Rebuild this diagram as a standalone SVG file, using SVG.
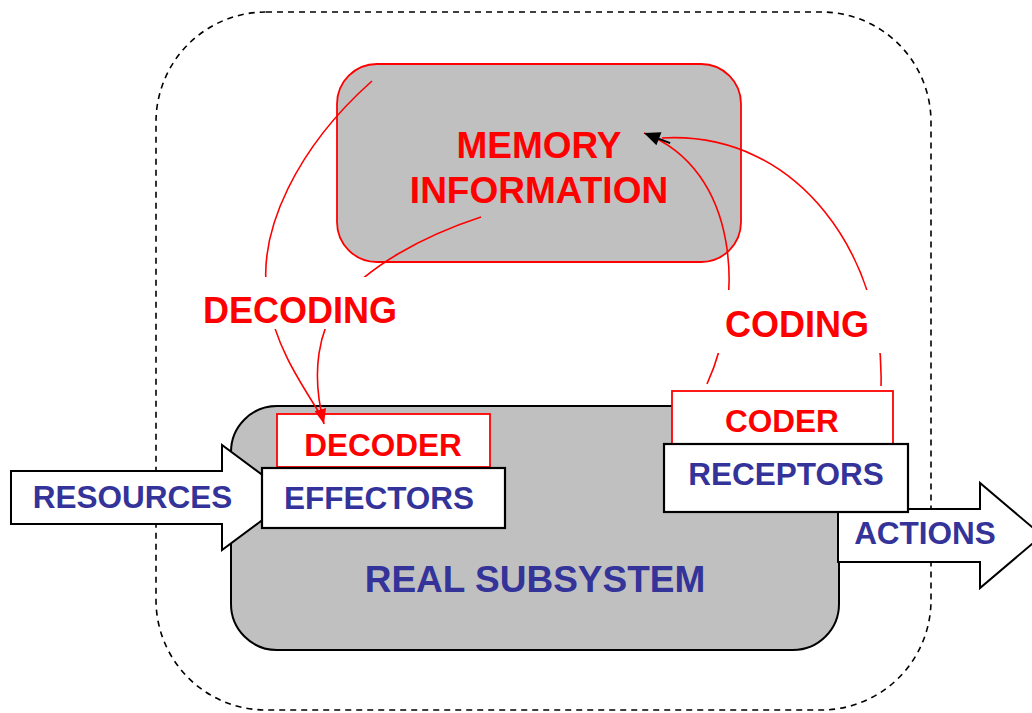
<svg xmlns="http://www.w3.org/2000/svg" width="1032" height="713" viewBox="0 0 1032 713">
  <style>
    .lbl { font-family: "Liberation Sans", Arial, sans-serif; font-weight: bold; text-anchor: middle; }
    .red { fill: #ff0000; }
    .blue { fill: #333399; }
    .grey-red { fill: #c0c0c0; stroke: #ff0000; stroke-width: 1.8; }
    .grey-black { fill: #c0c0c0; stroke: #000; stroke-width: 2; }
    .box-red { fill: #fff; stroke: #ff0000; stroke-width: 1.8; }
    .box-black { fill: #fff; stroke: #000; stroke-width: 2.2; }
    .flow { fill: #fff; stroke: #000; stroke-width: 2; stroke-linejoin: miter; }
    .wire { fill: none; stroke: #ff0000; stroke-width: 1.6; }
    .boundary { fill: none; stroke: #000; stroke-width: 1.6; stroke-dasharray: 6 5; }
    .mask { fill: #fff; stroke: none; }
  </style>
  <defs>
    <marker id="head-red" viewBox="0 0 15 12" refX="15" refY="6" markerWidth="15" markerHeight="12" markerUnits="userSpaceOnUse" orient="auto">
      <path d="M0,0 L15,6 L0,12 z" fill="#ff0000"/>
    </marker>
    <marker id="head-black" viewBox="-12 0 28 14" refX="16" refY="7" markerWidth="28" markerHeight="14" markerUnits="userSpaceOnUse" orient="auto" overflow="visible">
      <path d="M0,0 L16,7 L0,14 z" fill="#000"/>
      <path d="M-12,7 L4,7" stroke="#000" stroke-width="2"/>
    </marker>
  </defs>

  <rect width="1032" height="713" fill="#fff"/>

  <!-- system boundary -->
  <rect class="boundary" x="156" y="12" width="775" height="698" rx="110" ry="110"/>

  <g id="memory">
    <rect class="grey-red" x="337" y="64" width="404" height="198" rx="40" ry="40"/>
    <text class="lbl red" x="539" y="158" font-size="37">MEMORY</text>
    <text class="lbl red" x="539" y="203" font-size="37">INFORMATION</text>
  </g>

  <g id="real-subsystem">
    <rect class="grey-black" x="231" y="406" width="608" height="244" rx="46" ry="46"/>
    <text class="lbl blue" x="535" y="592" font-size="37">REAL SUBSYSTEM</text>
  </g>

  <g id="resources">
    <path class="flow" d="M11,471 L222,471 L222,445 L293,497.5 L222,550 L222,524 L11,524 z"/>
    <text class="lbl blue" x="132.5" y="508" font-size="31.5">RESOURCES</text>
  </g>

  <g id="actions">
    <path class="flow" d="M838,509 L980,509 L980,483 L1042,535.5 L980,588 L980,562 L838,562 z"/>
    <text class="lbl blue" x="925" y="544" font-size="31.5">ACTIONS</text>
  </g>

  <g id="decoder">
    <rect class="box-red" x="277" y="414" width="213" height="53"/>
    <text class="lbl red" x="383" y="456" font-size="31.5">DECODER</text>
  </g>

  <g id="effectors">
    <rect class="box-black" x="262" y="468" width="243" height="60"/>
    <text class="lbl blue" x="379" y="509" font-size="31.5">EFFECTORS</text>
  </g>

  <g id="coder">
    <rect class="box-red" x="672" y="391" width="221" height="53"/>
    <text class="lbl red" x="782" y="432" font-size="31.5">CODER</text>
  </g>

  <g id="receptors">
    <rect class="box-black" x="664" y="444" width="244" height="68"/>
    <text class="lbl blue" x="786" y="485" font-size="31.5">RECEPTORS</text>
  </g>

  <g id="connectors">
    <!-- decoding: memory to decoder -->
    <path class="wire" d="M372,81 C300,145 255,230 268,300 C275,345 300,382 320,414"/>
    <path class="wire" d="M481,217 C420,237 368,267 338,303 C320,330 310,370 324,424" marker-end="url(#head-red)"/>
    <!-- coding: coder to memory -->
    <path class="wire" d="M881,386 C885,260 800,130 662,138"/>
    <path class="wire" d="M707,384 C745,300 740,170 644,133" marker-end="url(#head-black)"/>
  </g>

  <g id="decoding-label">
    <rect class="mask" x="196" y="277" width="208" height="52"/>
    <text class="lbl red" x="300" y="323" font-size="36">DECODING</text>
  </g>

  <g id="coding-label">
    <rect class="mask" x="714" y="290" width="171" height="63"/>
    <text class="lbl red" x="797" y="337" font-size="36">CODING</text>
  </g>
</svg>
